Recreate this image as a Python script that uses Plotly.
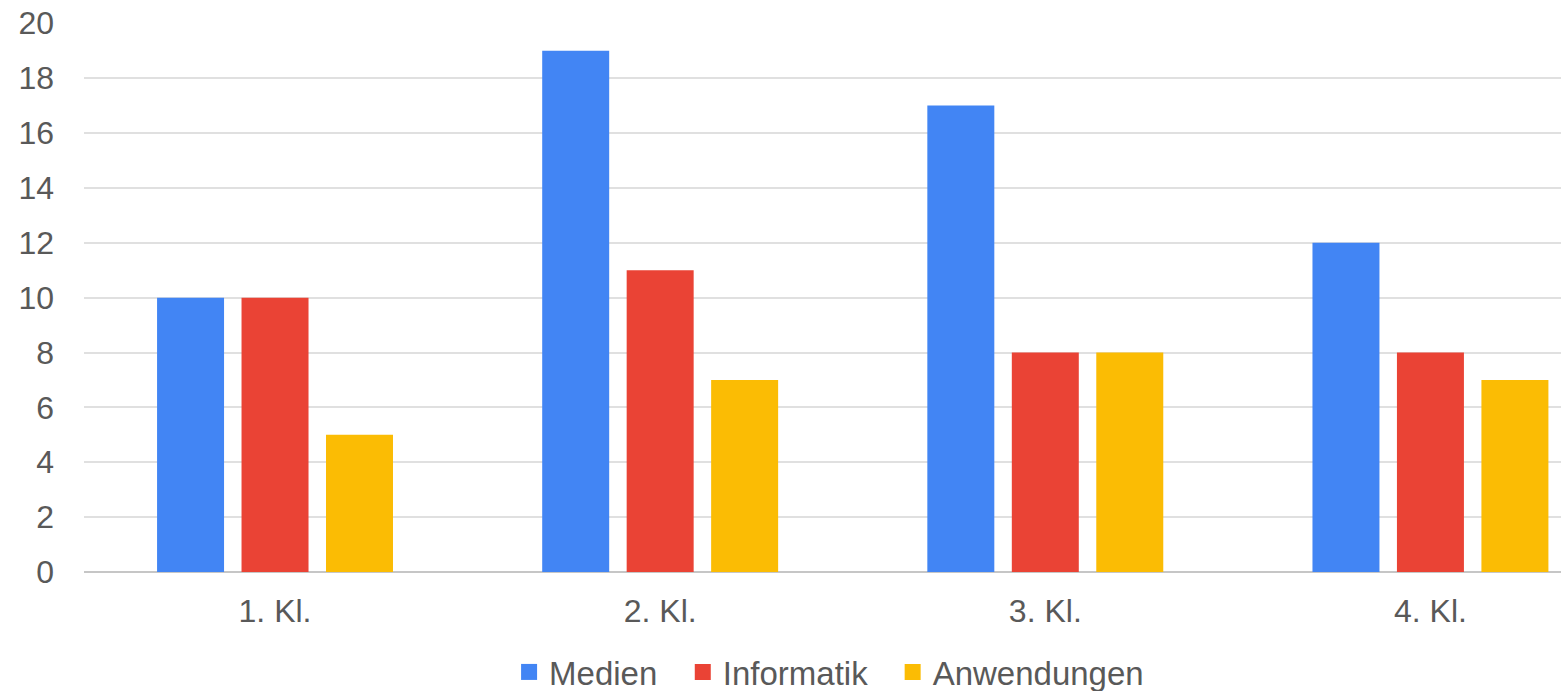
import plotly.graph_objects as go

categories = ["1. Kl.", "2. Kl.", "3. Kl.", "4. Kl."]
medien = [10, 19, 17, 12]
informatik = [10, 11, 8, 8]
anwendungen = [5, 7, 8, 7]
series_names = ["Medien", "Informatik", "Anwendungen"]
colors = ["#4285F4", "#EA4335", "#FBBC04"]
y_ticks = [0, 2, 4, 6, 8, 10, 12, 14, 16, 18, 20]

FONT = "Liberation Sans, Arial, sans-serif"
TXT = "#595959"
legend_ids = ["legend", "legend2", "legend3"]
legend_x = [0.2878, 0.4054, 0.5475]

fig = go.Figure()
for name, vals, col in zip(series_names, [medien, informatik, anwendungen], colors):
    fig.add_trace(go.Bar(x=categories, y=vals, name=name, marker_color=col,
                         marker_line_width=0, showlegend=False))
for name, col, lid in zip(series_names, colors, legend_ids):
    fig.add_trace(go.Scatter(x=[None], y=[None], mode="markers", name=name, legend=lid,
                             marker=dict(symbol="square", size=17, color=col)))

layout_legends = {}
for lid, lx in zip(legend_ids, legend_x):
    layout_legends[lid] = dict(orientation="h", x=lx, xanchor="left", y=-0.1821,
                               yanchor="middle", font=dict(family=FONT, size=33, color=TXT),
                               itemwidth=30, bgcolor="rgba(0,0,0,0)", borderwidth=0)

fig.update_layout(
    width=1561, height=691,
    margin=dict(l=84, r=0, t=23, b=119, pad=0, autoexpand=False),
    paper_bgcolor="white", plot_bgcolor="white",
    barmode="group", bargap=0.342, bargroupgap=0.207,
    font=dict(family=FONT, size=32, color=TXT),
    xaxis=dict(type="category", range=[-0.496, 3.339], showgrid=False, automargin=False,
               showline=False, ticks="", ticklabelstandoff=17,
               tickfont=dict(family=FONT, size=32, color=TXT)),
    yaxis=dict(range=[0, 20.01], tickvals=y_ticks, showgrid=True, gridcolor="#e0e0e0",
               gridwidth=2, zeroline=True, zerolinecolor="#c6c6c6", zerolinewidth=2,
               showline=False, ticks="", ticklabelstandoff=29, automargin=False,
               ticklabeloverflow="allow",
               tickfont=dict(family=FONT, size=32, color=TXT)),
    **layout_legends,
)

fig.write_html(
    "out.html",
    config={"displayModeBar": False},
    post_script="document.body.style.margin='0';document.body.style.overflow='hidden';",
)
